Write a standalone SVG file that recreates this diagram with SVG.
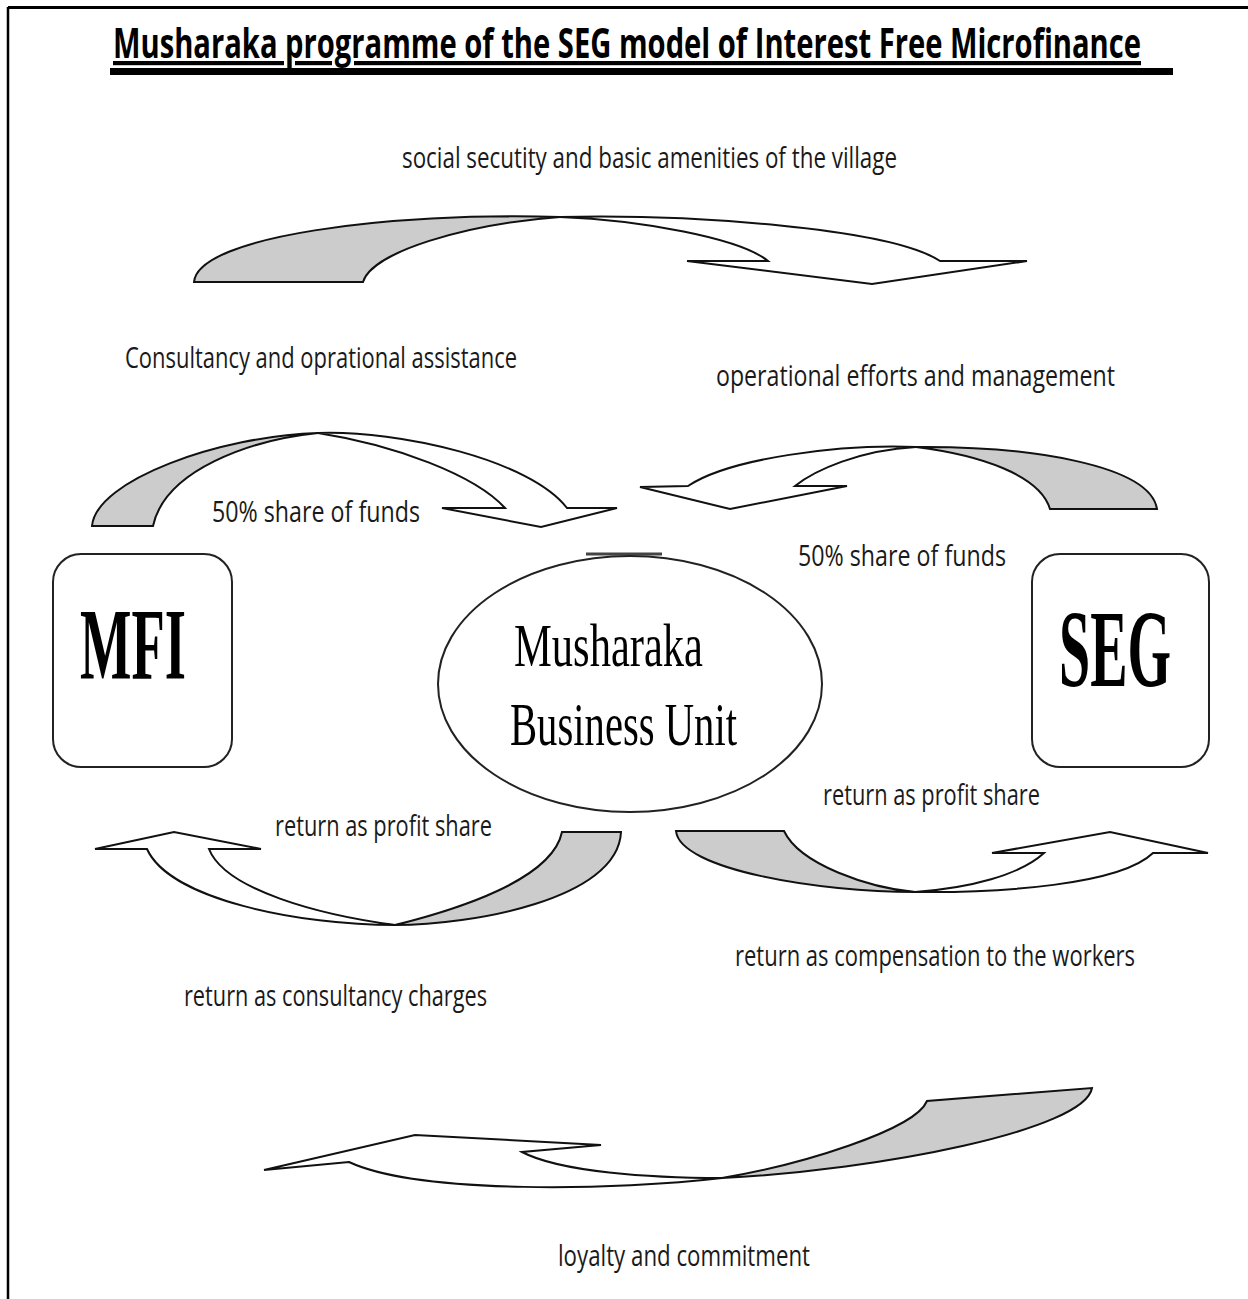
<svg xmlns="http://www.w3.org/2000/svg" width="1248" height="1299" viewBox="0 0 1248 1299">
<style>
.lbl{font-family:"Open Sans","Liberation Sans",sans-serif;font-size:29px;fill:#1a1a1a}
.back{fill:#cccccc;stroke:#111;stroke-width:2;stroke-linejoin:miter}
.front{fill:#ffffff;stroke:#111;stroke-width:2;stroke-linejoin:miter}
.box{fill:#fff;stroke:#222;stroke-width:2}
.big{font-family:"Liberation Serif","Times New Roman",serif;font-weight:bold;fill:#000}
.mid{font-family:"Liberation Serif","Times New Roman",serif;fill:#000}
</style>
<rect x="0" y="0" width="1248" height="1299" fill="#fff"/>
<g id="frame">
<line x1="8" y1="7.5" x2="1248" y2="7.5" stroke="#000" stroke-width="3"/>
<line x1="8" y1="7" x2="8" y2="1299" stroke="#000" stroke-width="2.5"/>
</g>
<g id="title">
<text x="113" y="58" font-family="'Open Sans','Liberation Sans',sans-serif" font-weight="bold" font-size="42" text-decoration="underline" textLength="1028" lengthAdjust="spacingAndGlyphs" fill="#000">Musharaka programme of the SEG model of Interest Free Microfinance</text>
<rect x="110" y="68" width="1063" height="7" fill="#000"/>
</g>
<g id="connectors">
<g id="arrow-top">
<path class="back" d="M194,282 C198,236 390,212 560,217 C465,224 372,252 363,282 Z"/>
<path class="front" d="M560,217 C690,214 890,228 940,261 L1027,261 L872,284 L687,261 L768,261 C740,238 640,220 560,217 Z"/>
</g>
<g id="arrow-top-left">
<path class="back" d="M92,526 C96,480 220,436 318,433 C250,440 165,470 153,526 Z"/>
<path class="front" d="M318,433 C400,430 530,460 567,508 L617,508 L541,527 L442,508 L505,508 C475,475 395,445 318,433 Z"/>
</g>
<g id="arrow-top-right">
<path class="back" d="M1157,509 C1150,465 1030,446 916,447 C980,455 1040,475 1050,509 Z"/>
<path class="front" d="M916,447 C840,444 730,458 688,486 L640,487 L730,509 L847,486 L795,486 C815,470 860,450 916,447 Z"/>
</g>
<g id="arrow-bottom-left">
<path class="back" d="M621,832 C618,900 470,925 395,925 C455,910 552,880 562,832 Z"/>
<path class="front" d="M395,925 C300,925 170,900 147,849 L95,849 L174,832 L261,849 L209,849 C225,890 320,915 395,925 Z"/>
</g>
<g id="arrow-bottom-right">
<path class="back" d="M676,831 C680,870 820,892 915,892 C870,888 800,865 784,831 Z"/>
<path class="front" d="M915,892 C1000,893 1120,885 1153,853 L1208,853 L1110,832 L992,853 L1044,853 C1020,875 970,888 915,892 Z"/>
</g>
<g id="arrow-bottom">
<path class="back" d="M1092,1088 C1085,1130 880,1170 722,1178 C800,1165 915,1130 927,1101 Z"/>
<path class="front" d="M722,1178 C620,1190 420,1195 349,1162 L264,1170 L415,1135 L601,1145 L522,1152 C560,1172 650,1178 722,1178 Z"/>
</g>
</g>
<g id="labels">
<text class="lbl" x="402" y="168" textLength="495" lengthAdjust="spacingAndGlyphs">social secutity and basic amenities of the village</text>
<text class="lbl" x="125" y="368" textLength="392" lengthAdjust="spacingAndGlyphs">Consultancy and oprational assistance</text>
<text class="lbl" x="716" y="386" textLength="399" lengthAdjust="spacingAndGlyphs">operational efforts and management</text>
<text class="lbl" x="212" y="522" textLength="208" lengthAdjust="spacingAndGlyphs">50% share of funds</text>
<text class="lbl" x="798" y="566" textLength="208" lengthAdjust="spacingAndGlyphs">50% share of funds</text>
<text class="lbl" x="275" y="836" textLength="217" lengthAdjust="spacingAndGlyphs">return as profit share</text>
<text class="lbl" x="823" y="805" textLength="217" lengthAdjust="spacingAndGlyphs">return as profit share</text>
<text class="lbl" x="735" y="966" textLength="400" lengthAdjust="spacingAndGlyphs">return as compensation to the workers</text>
<text class="lbl" x="184" y="1006" textLength="303" lengthAdjust="spacingAndGlyphs">return as consultancy charges</text>
<text class="lbl" x="558" y="1266" textLength="252" lengthAdjust="spacingAndGlyphs">loyalty and commitment</text>
</g>
<g id="node-mfi">
<rect class="box" x="53" y="554" width="179" height="213" rx="28" ry="28"/>
<text class="big" x="80" y="679" font-size="102" textLength="106" lengthAdjust="spacingAndGlyphs">MFI</text>
</g>
<g id="node-seg">
<rect class="box" x="1032" y="554" width="177" height="213" rx="28" ry="28"/>
<text class="big" x="1059" y="686" font-size="110" textLength="112" lengthAdjust="spacingAndGlyphs">SEG</text>
</g>
<g id="node-unit">
<line x1="586" y1="554" x2="662" y2="554" stroke="#444" stroke-width="3"/>
<ellipse class="box" cx="630" cy="684" rx="192" ry="128"/>
<text class="mid" x="514" y="666" font-size="62" textLength="189" lengthAdjust="spacingAndGlyphs">Musharaka</text>
<text class="mid" x="510" y="745" font-size="62" textLength="227" lengthAdjust="spacingAndGlyphs">Business Unit</text>
</g>
</svg>
